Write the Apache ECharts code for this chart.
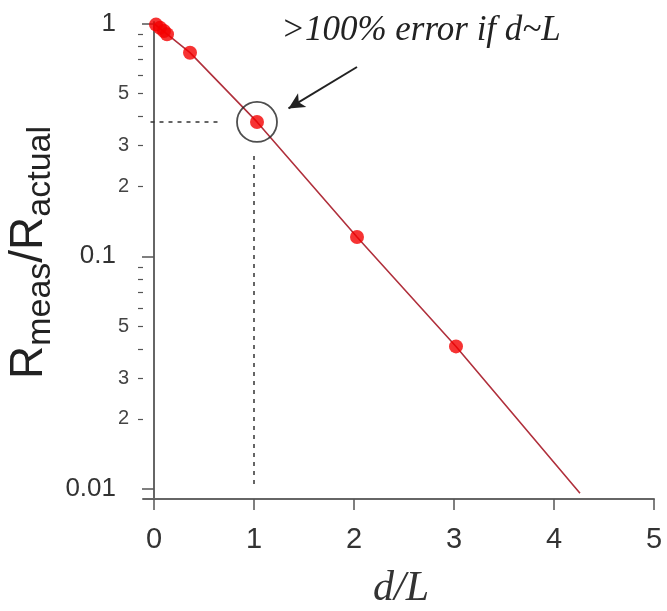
<!DOCTYPE html>
<html style="height: 100%">
<head>
    <meta charset="utf-8">
</head>
<body style="height: 100%; margin: 0; background-color: #fff;">
<div id="container" style="width: 667px; height: 611px;"></div>
<script type="text/javascript" src="https://cdn.jsdelivr.net/npm/echarts@6/dist/echarts.min.js"></script>
<script type="text/javascript">
// measured points
var dotX = [0.02, 0.06, 0.10, 0.13, 0.36, 1.03, 2.03, 3.02];
var dotY = [0.99, 0.96, 0.93, 0.90, 0.75, 0.378, 0.121, 0.041];

// red line
var lineX = [0, 0.36, 1.03, 2.03, 3.02, 4.26];
var lineY = [1.0, 0.75, 0.378, 0.121, 0.041, 0.0096];

// circled point and guides
var ringX = [1.03];
var ringY = [0.378];
var guideH = [[-0.035, 0.378], [0.68, 0.378]];
var guideV = [[1.0, 0.27], [1.0, 0.0104]];
var arrowPts = [[2.03, 0.651], [1.345, 0.432]];

// ticks
var xTicks = [0, 1, 2, 3, 4, 5];
var yMajor = [0.01, 0.1, 1];
var yMinor = [0.02, 0.03, 0.04, 0.05, 0.06, 0.07, 0.08, 0.09,
              0.2, 0.3, 0.4, 0.5, 0.6, 0.7, 0.8, 0.9];
var yMinorLabels = [0.02, 0.03, 0.05, 0.2, 0.3, 0.5];

var chart = echarts.init(document.getElementById('container'));

function pairs(xs, ys) {
    var out = [];
    for (var i = 0; i < xs.length; i++) out.push([xs[i], ys[i]]);
    return out;
}

var yMin = 0.00906, yMax = 1.016;
var axisGrey = '#666';

var option = {
    animation: false,
    backgroundColor: '#fff',
    grid: { left: 143, right: 13, top: 22, bottom: 112, outerBoundsMode: 'none' },
    xAxis: {
        type: 'value',
        min: -0.11,
        max: 5,
        splitLine: { show: false },
        axisLine: { lineStyle: { color: axisGrey, width: 2 } },
        axisTick: { customValues: xTicks, length: 11, lineStyle: { color: '#555', width: 1.5 } },
        axisLabel: {
            customValues: xTicks, margin: 26,
            fontSize: 29, color: '#333', fontFamily: 'Liberation Sans'
        },
        name: 'd/L',
        nameLocation: 'middle',
        nameGap: 69,
        nameMoveOverlap: false,
        nameTextStyle: {
            fontSize: 42, fontStyle: 'italic', fontFamily: 'Liberation Serif', color: '#333',
            padding: [0, 0, 0, 5]
        }
    },
    yAxis: [{
        type: 'log',
        min: yMin,
        max: yMax,
        splitLine: { show: false },
        axisLine: { lineStyle: { color: axisGrey, width: 2 } },
        axisTick: { customValues: yMajor, length: 12, lineStyle: { color: '#555', width: 1.5 } },
        axisLabel: {
            customValues: yMajor, margin: 27,
            fontSize: 26, color: '#333', fontFamily: 'Liberation Sans',
            formatter: function (v) { return String(+v.toPrecision(3)); }
        },
        name: '{r|R}{s|meas}{r|/R}{s|actual}',
        nameLocation: 'middle',
        nameRotate: 90,
        nameGap: 85,
        nameMoveOverlap: false,
        nameTextStyle: {
            color: '#222',
            padding: [0, 0, 0, 16],
            rich: {
                r: { fontSize: 46, fontFamily: 'Liberation Sans', color: '#222', lineHeight: 46, verticalAlign: 'top' },
                s: { fontSize: 34, fontFamily: 'Liberation Sans', color: '#222', lineHeight: 52, verticalAlign: 'bottom' }
            }
        }
    }, {
        type: 'log',
        min: yMin,
        max: yMax,
        position: 'left',
        splitLine: { show: false },
        axisLine: { show: false },
        axisTick: { customValues: yMinor, length: 5, lineStyle: { color: '#555', width: 1.2 } },
        axisLabel: {
            customValues: yMinorLabels, margin: 14,
            fontSize: 20, color: '#444', fontFamily: 'Liberation Sans',
            formatter: function (v) { return String(Math.round(v / Math.pow(10, Math.floor(Math.log10(v) + 1e-9)))); }
        }
    }],
    graphic: [{
        type: 'text',
        x: 421,
        y: 31,
        style: {
            text: '>100% error if d~L',
            font: 'italic 35px "Liberation Serif"',
            fill: '#222',
            textAlign: 'center',
            textVerticalAlign: 'middle'
        }
    }],
    series: [{
        name: 'fit',
        type: 'line',
        data: pairs(lineX, lineY),
        symbol: 'none',
        lineStyle: { color: '#b0303c', width: 1.6 },
        z: 2,
        markLine: {
            silent: true,
            symbol: ['none', 'none'],
            label: { show: false },
            lineStyle: { color: '#333', width: 1.5, type: [4, 5] },
            data: [
                [{ coord: guideH[0] }, { coord: guideH[1] }],
                [{ coord: guideV[0] }, { coord: guideV[1] }]
            ]
        }
    }, {
        name: 'data',
        type: 'scatter',
        data: pairs(dotX, dotY),
        symbol: 'circle',
        symbolSize: 14,
        itemStyle: { color: '#f40000' },
        z: 3
    }, {
        name: 'ring',
        type: 'scatter',
        data: pairs(ringX, ringY),
        symbol: 'circle',
        symbolSize: 40,
        itemStyle: { color: 'transparent', borderColor: '#222', borderWidth: 1.8 },
        z: 4,
        markLine: {
            silent: true,
            symbol: ['none', 'arrow'],
            symbolSize: [12, 16],
            label: { show: false },
            lineStyle: { color: '#222', width: 2, type: 'solid' },
            data: [[{ coord: arrowPts[0] }, { coord: arrowPts[1] }]]
        }
    }]
};

chart.setOption(option);
</script>
</body>
</html>
